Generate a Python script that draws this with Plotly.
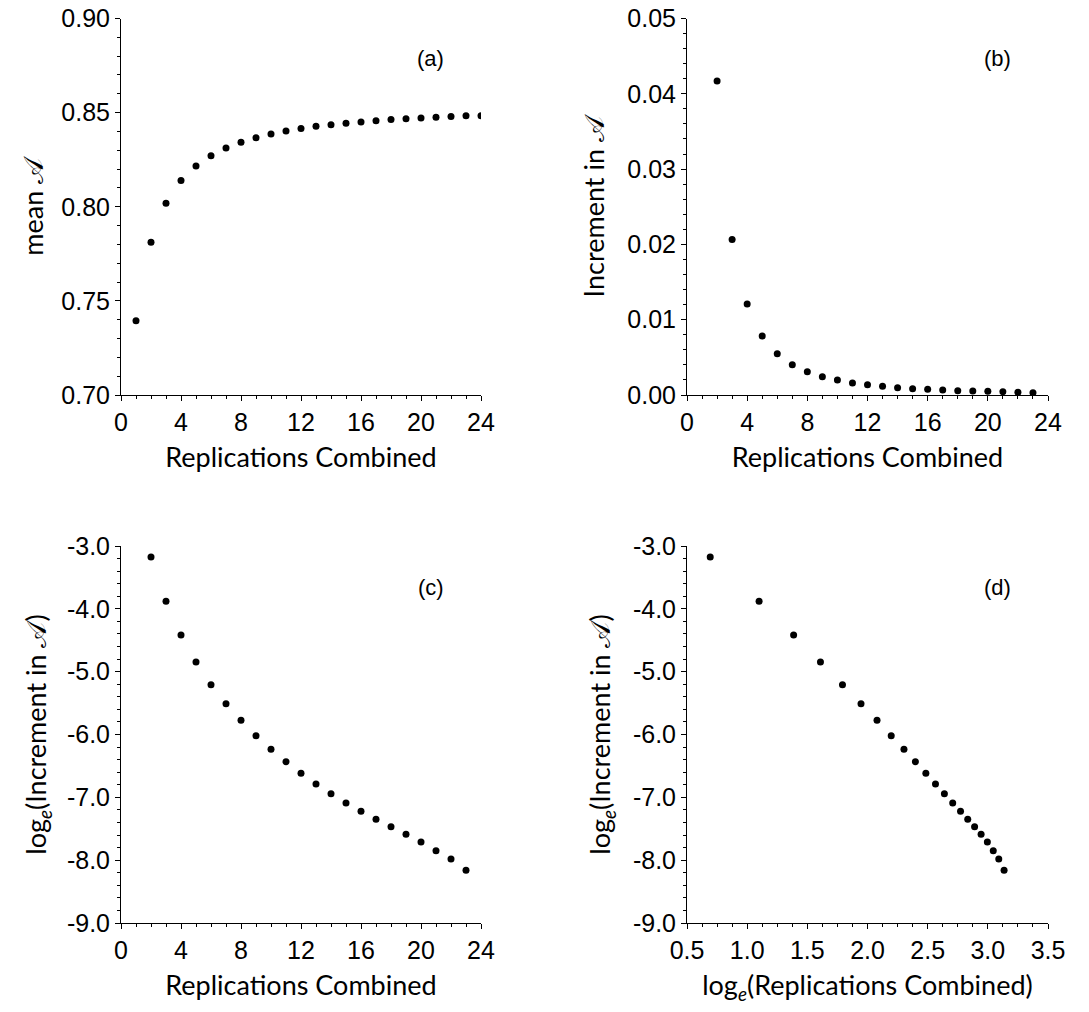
import plotly.graph_objects as go

# ---- data ----
reps_a = list(range(1, 25))
mean_A = [0.7394, 0.7812, 0.8019, 0.8139, 0.8217, 0.8271, 0.8312, 0.8342,
          0.8367, 0.8386, 0.8402, 0.8416, 0.8427, 0.8436, 0.8443, 0.8450,
          0.8457, 0.8464, 0.8468, 0.8471, 0.8475, 0.8480, 0.8484, 0.8484]

reps_b = list(range(2, 24))
incr_A = [0.04169, 0.02065, 0.01207, 0.00783, 0.00548, 0.00402, 0.00309,
          0.00243, 0.00199, 0.00159, 0.00137, 0.00115, 0.00097, 0.00084,
          0.00075, 0.00066, 0.00057, 0.00053, 0.00049, 0.00044, 0.00035,
          0.00031]

log_incr_A = [-3.175, -3.881, -4.416, -4.846, -5.207, -5.509, -5.775, -6.019,
              -6.236, -6.432, -6.618, -6.788, -6.942, -7.090, -7.223, -7.350,
              -7.467, -7.589, -7.711, -7.849, -7.981, -8.162]

log_reps = [0.693, 1.099, 1.386, 1.609, 1.792, 1.946, 2.079, 2.197, 2.303,
            2.398, 2.485, 2.565, 2.639, 2.708, 2.773, 2.833, 2.890, 2.944,
            2.996, 3.045, 3.091, 3.135]

log_tick_vals = [-9.0, -8.0, -7.0, -6.0, -5.0, -4.0, -3.0]
log_tick_text = ["-9.0", "-8.0", "-7.0", "-6.0", "-5.0", "-4.0", "-3.0"]

panel_labels = ["(a)", "(b)", "(c)", "(d)"]

W, H = 1089, 1012
TICKFONT = dict(family="Liberation Sans, Arial, sans-serif", size=25, color="black")
TITLEFONT = dict(family="Lato, DejaVu Sans, sans-serif", size=27, color="black")
MARK = dict(color="black", size=7)

fig = go.Figure()
fig.add_trace(go.Scatter(x=reps_a, y=mean_A, mode="markers", marker=MARK, xaxis="x", yaxis="y"))
fig.add_trace(go.Scatter(x=reps_b, y=incr_A, mode="markers", marker=MARK, xaxis="x2", yaxis="y2"))
fig.add_trace(go.Scatter(x=reps_b, y=log_incr_A, mode="markers", marker=MARK, xaxis="x3", yaxis="y3"))
fig.add_trace(go.Scatter(x=log_reps, y=log_incr_A, mode="markers", marker=MARK, xaxis="x4", yaxis="y4"))

xl = [121 / W, 481 / W]
xr = [687 / W, 1048 / W]
yt = [1 - 395 / H, 1 - 18.5 / H]
yb = [1 - 923 / H, 1 - 546 / H]


def base(domain, anchor, rng, dtick, mdtick, title, standoff):
    return dict(domain=domain, anchor=anchor, range=rng, tick0=rng[0], dtick=dtick,
                automargin=False,
                showline=True, linecolor="black", linewidth=1, mirror=False,
                showgrid=False, zeroline=False, ticks="outside", ticklen=5,
                tickcolor="black", tickwidth=1, tickfont=TICKFONT,
                minor=dict(ticks="outside", ticklen=3, dtick=mdtick, tick0=rng[0],
                           tickcolor="black", tickwidth=1, showgrid=False),
                title=dict(text=title, font=TITLEFONT, standoff=standoff))


def xax(domain, anchor, rng, dtick, mdtick, title, fmt=None):
    d = base(domain, anchor, rng, dtick, mdtick, title, 13)
    if fmt:
        d["tickformat"] = fmt
    return d


def yax(domain, anchor, rng, dtick, mdtick, title, standoff, fmt=None, vals=None, text=None):
    d = base(domain, anchor, rng, dtick, mdtick, title, standoff)
    if fmt:
        d["tickformat"] = fmt
    if vals is not None:
        d["tickmode"] = "array"
        d["tickvals"] = vals
        d["ticktext"] = text
    return d


rep_title = "Replications Combined"
loge = "log<sub><i>e</i></sub>"
fig.update_layout(
    width=W, height=H, margin=dict(l=0, r=0, t=0, b=0),
    paper_bgcolor="white", plot_bgcolor="white", showlegend=False,
    xaxis=xax(xl, "y", [0, 24], 4, 1, rep_title),
    yaxis=yax(yt, "x", [0.70, 0.90], 0.05, 0.01, "mean 𝒜", 9, fmt=".2f"),
    xaxis2=xax(xr, "y2", [0, 24], 4, 1, rep_title),
    yaxis2=yax(yt, "x2", [0.0, 0.05], 0.01, 0.002, "Increment in 𝒜", 14, fmt=".2f"),
    xaxis3=xax(xl, "y3", [0, 24], 4, 1, rep_title),
    yaxis3=yax(yb, "x3", [-9.0, -3.0], 1, 0.2, loge + "(Increment in 𝒜)", 12,
               vals=log_tick_vals, text=log_tick_text),
    xaxis4=xax(xr, "y4", [0.5, 3.5], 0.5, 0.125, loge + "(Replications Combined)", fmt=".1f"),
    yaxis4=yax(yb, "x4", [-9.0, -3.0], 1, 0.2, loge + "(Increment in 𝒜)", 14,
               vals=log_tick_vals, text=log_tick_text),
)

refs = [("x", "y", 0.895), ("x2", "y2", 0.895), ("x3", "y3", 0.891), ("x4", "y4", 0.891)]
for lab, (xr_, yr_, yy) in zip(panel_labels, refs):
    fig.add_annotation(text=lab, xref=xr_ + " domain", yref=yr_ + " domain",
                       x=0.86, y=yy, xanchor="center", yanchor="middle", showarrow=False,
                       font=dict(family="Liberation Sans, Arial, sans-serif", size=22, color="black"))

fig.write_html("out.html")
